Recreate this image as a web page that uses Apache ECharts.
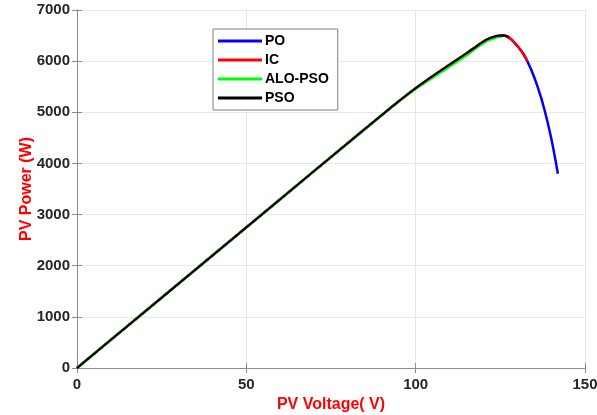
<!DOCTYPE html>
<html>
  <head>
    <meta charset="utf-8" />
    <script src="https://cdn.jsdelivr.net/npm/echarts@6/dist/echarts.min.js"></script>
  </head>
  <body style="margin:0">
    <div id="main" style="width: 597px;height:415px;"></div>
    <script type="text/javascript">
      // PV curve (voltage V, power W)
      var poV = [0, 20, 40, 60, 80, 90, 95, 100, 105, 110, 115, 118, 121, 124, 126, 128, 130, 132, 134, 136, 138, 140, 142];
      var poP = [0, 1100, 2200, 3300, 4400, 4945, 5215, 5470, 5705, 5930, 6150, 6290, 6420, 6490, 6500, 6440, 6300, 6120, 5850, 5500, 5060, 4500, 3800];
      var icV = [0, 20, 40, 60, 80, 90, 95, 100, 105, 110, 115, 118, 121, 124, 126, 128, 130, 132, 133];
      var icP = [0, 1100, 2200, 3300, 4400, 4945, 5215, 5470, 5705, 5930, 6150, 6290, 6420, 6490, 6500, 6440, 6300, 6120, 6000];
      var aloV = [0, 20, 40, 60, 80, 90, 95, 100, 105, 110, 115, 118, 121, 124, 125.5];
      var aloP = [0, 1100, 2200, 3300, 4400, 4945, 5215, 5455, 5675, 5890, 6110, 6260, 6390, 6465, 6480];
      var psoV = [0, 20, 40, 60, 80, 90, 95, 100, 105, 110, 115, 118, 121, 124, 126, 127.5];
      var psoP = [0, 1100, 2200, 3300, 4400, 4945, 5215, 5470, 5705, 5930, 6150, 6290, 6420, 6490, 6500, 6470];

      function pairs(xs, ys) {
        var out = [];
        for (var i = 0; i < xs.length; i++) out.push([xs[i], ys[i]]);
        return out;
      }

      var tickFont = { color: '#262626', fontWeight: 'bold', fontSize: 15, fontFamily: 'Liberation Sans' };
      var nameFont = { color: '#ff0000', fontWeight: 'bold', fontSize: 16, fontFamily: 'Liberation Sans' };
      var boxLine = { show: true, lineStyle: { color: '#8c8c8c', width: 1 } };
      var gridLine = { show: true, lineStyle: { color: '#e6e6e6', width: 1 } };
      var inTick = { show: true, inside: true, length: 5, lineStyle: { color: '#8c8c8c' } };
      var plain = function (v) { return String(v); };

      var myChart = echarts.init(document.getElementById('main'));
      var option = {
        animation: false,
        backgroundColor: '#fff',
        grid: { left: 77, right: 12, top: 10, bottom: 47, outerBoundsMode: 'none', containLabel: false },
        legend: {
          orient: 'vertical',
          left: 213,
          top: 29,
          width: 123,
          padding: [5, 9, 5, 5],
          icon: 'rect',
          itemWidth: 44,
          itemHeight: 3,
          itemGap: 5,
          borderColor: '#7f7f7f',
          borderWidth: 1,
          backgroundColor: '#fff',
          textStyle: { color: '#000', fontWeight: 'bold', fontSize: 14, fontFamily: 'Liberation Sans', lineHeight: 14, padding: [0, 0, 0, -2] },
          data: ['PO', 'IC', 'ALO-PSO', 'PSO']
        },
        xAxis: [{
          type: 'value', min: 0, max: 150, interval: 50,
          name: 'PV Voltage( V)', nameLocation: 'middle', nameGap: 29, nameMoveOverlap: false,
          nameTextStyle: nameFont,
          axisLine: boxLine, axisTick: inTick,
          axisLabel: Object.assign({ margin: 9, formatter: plain }, tickFont),
          splitLine: gridLine
        }, {
          type: 'value', min: 0, max: 150, interval: 50, position: 'top',
          axisLine: boxLine, axisTick: inTick,
          axisLabel: { show: false }, splitLine: { show: false }
        }],
        yAxis: [{
          type: 'value', min: 0, max: 7000, interval: 1000,
          name: 'PV Power (W)', nameLocation: 'middle', nameGap: 42, nameMoveOverlap: false,
          nameTextStyle: nameFont,
          axisLine: boxLine, axisTick: inTick,
          axisLabel: Object.assign({ margin: 7, formatter: plain }, tickFont),
          splitLine: gridLine
        }, {
          type: 'value', min: 0, max: 7000, interval: 1000, position: 'right',
          axisLine: boxLine, axisTick: inTick,
          axisLabel: { show: false }, splitLine: { show: false }
        }],
        series: [
          { name: 'PO', type: 'line', smooth: 0.3, symbol: 'none', color: '#0000ff', lineStyle: { width: 2.5 }, data: pairs(poV, poP) },
          { name: 'IC', type: 'line', smooth: 0.3, symbol: 'none', color: '#ff0000', lineStyle: { width: 2.5 }, data: pairs(icV, icP) },
          { name: 'ALO-PSO', type: 'line', smooth: 0.3, symbol: 'none', color: '#00ff00', lineStyle: { width: 2.5 }, data: pairs(aloV, aloP) },
          { name: 'PSO', type: 'line', smooth: 0.3, symbol: 'none', color: '#000000', lineStyle: { width: 2 }, data: pairs(psoV, psoP) }
        ]
      };
      myChart.setOption(option);
    </script>
  </body>
</html>
